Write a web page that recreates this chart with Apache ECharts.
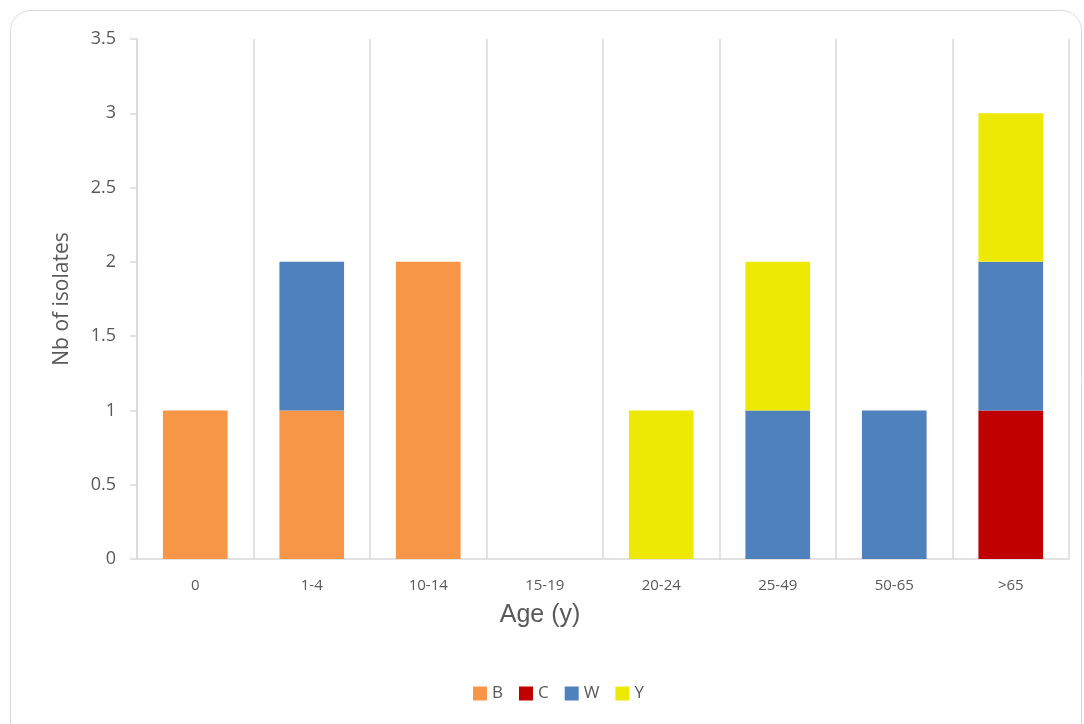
<!DOCTYPE html>
<html>
<head>
<meta charset="utf-8">
<style>
html,body{margin:0;padding:0;background:#fff;overflow:hidden;}
#c{width:1084px;height:724px;}
</style>
<script src="https://cdn.jsdelivr.net/npm/echarts@6/dist/echarts.min.js"></script>
</head>
<body>
<div id="c"></div>
<script>
const categories = ['0', '1-4', '10-14', '15-19', '20-24', '25-49', '50-65', '>65'];
const seriesB = [1, 1, 2, 0, 0, 0, 0, 0];
const seriesC = [0, 0, 0, 0, 0, 0, 0, 1];
const seriesW = [0, 1, 0, 0, 0, 1, 1, 1];
const seriesY = [0, 0, 0, 0, 1, 1, 0, 1];
const yTicks = [0, 0.5, 1, 1.5, 2, 2.5, 3, 3.5];

const chart = echarts.init(document.getElementById('c'), null, {renderer: 'canvas'});
const font = '"Open Sans", sans-serif';
function bar(name, data, color) {
  return {
    name: name, type: 'bar', stack: 'total', data: data,
    barCategoryGap: '44.5%',
    itemStyle: {color: color},
    emphasis: {disabled: true}
  };
}
chart.setOption({
  animation: false,
  textStyle: {fontFamily: font},
  graphic: [{
    type: 'rect', silent: true,
    shape: {x: 10.5, y: 10.5, width: 1071, height: 800, r: 20},
    style: {fill: 'none', stroke: '#d9d9d9', lineWidth: 1}
  }],
  grid: {left: 137, right: 15, top: 39, bottom: 165},
  legend: {
    top: 680, left: 468,
    itemWidth: 14, itemHeight: 14, itemGap: 16,
    icon: 'rect',
    textStyle: {fontSize: 17, color: '#595959', fontFamily: font},
    data: ['B', 'C', 'W', 'Y']
  },
  xAxis: {
    type: 'category', data: categories,
    name: 'Age (y)', nameLocation: 'middle', nameGap: 44,
    nameTextStyle: {fontSize: 25, color: '#595959', fontFamily: '"Liberation Sans", Arial, sans-serif',
      padding: [0, 126, 0, 0]},
    axisLine: {show: true, lineStyle: {color: '#d9d9d9', width: 1.5}},
    axisTick: {show: false},
    axisLabel: {fontSize: 15, color: '#595959', margin: 19, fontFamily: font},
    splitLine: {show: true, lineStyle: {color: '#d9d9d9', width: 1.5}}
  },
  yAxis: {
    type: 'value', min: 0, max: 3.5, interval: 0.5,
    name: 'Nb of isolates', nameLocation: 'middle', nameGap: 64,
    nameTextStyle: {fontSize: 21, color: '#595959', fontFamily: font},
    axisLine: {show: true, lineStyle: {color: '#d9d9d9', width: 1.5}},
    axisTick: {show: true, length: 7, lineStyle: {color: '#d9d9d9', width: 1.5}},
    axisLabel: {fontSize: 18, color: '#595959', margin: 21, fontFamily: font,
      formatter: function (v) { return yTicks.indexOf(v) >= 0 ? String(v) : ''; }},
    splitLine: {show: false}
  },
  series: [
    bar('B', seriesB, '#F79646'),
    bar('C', seriesC, '#C00000'),
    bar('W', seriesW, '#4F81BD'),
    bar('Y', seriesY, '#EDE804')
  ]
});
</script>
</body>
</html>
